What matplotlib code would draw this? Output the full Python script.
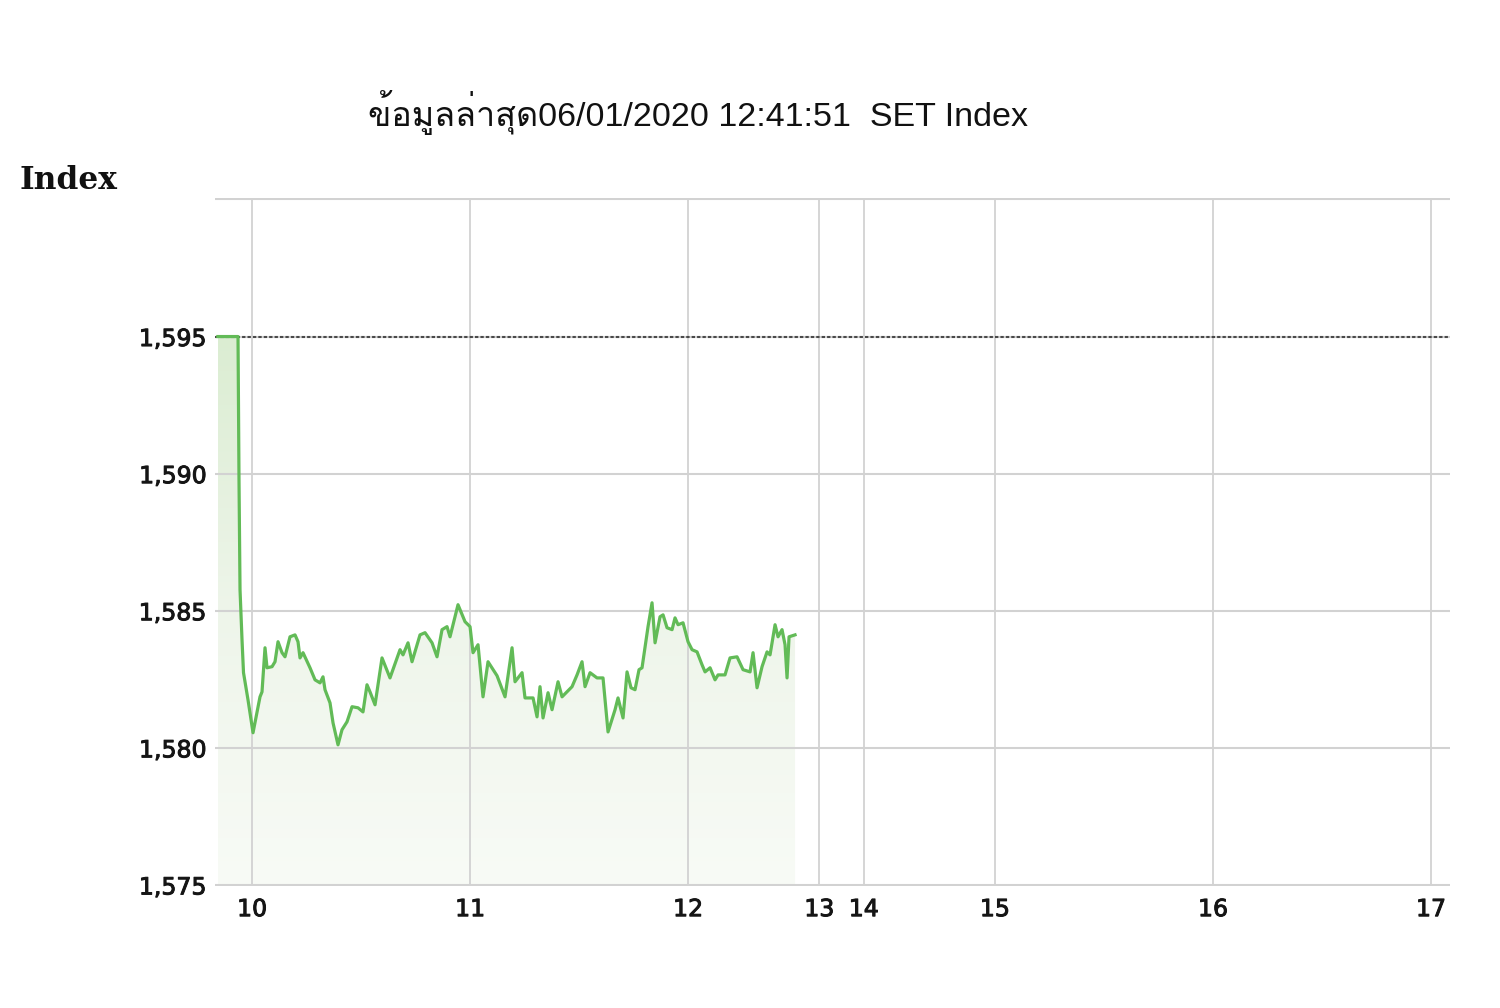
import numpy as np
import matplotlib
matplotlib.use("Agg")
import matplotlib.pyplot as plt
import matplotlib.patheffects as pe
from matplotlib import font_manager
from matplotlib.ft2font import FT2Font
from matplotlib.colors import LinearSegmentedColormap

# ---------------- data ----------------
title_text = "ข้อมูลล่าสุด06/01/2020 12:41:51  SET Index"
y_axis_title = "Index"

# minutes after 10:00 and SET index value
minutes = [-9.4, -3.85, -3.58, -3.30, -2.75, -2.34, -1.10, 0.28, 2.20, 2.75, 3.58, 4.13,
           5.51, 6.33, 7.16, 8.26, 9.08, 10.46, 11.84, 12.66, 13.21, 14.04, 15.96, 17.34,
           18.72, 19.54, 20.09, 21.47, 22.30, 23.67, 24.77, 26.15, 27.53, 29.18, 30.55,
           31.65, 32.48, 33.86, 35.78, 37.98, 40.74, 41.56, 42.94, 44.04, 46.24, 47.62,
           49.55, 50.92, 52.30, 53.67, 54.50, 56.70, 58.63, 60.01, 60.83, 62.21, 63.58,
           64.96, 67.44, 69.64, 71.57, 72.39, 74.32, 75.14, 77.35, 78.45, 79.27, 80.10,
           81.48, 82.58, 84.23, 85.33, 88.08, 89.46, 90.83, 91.66, 93.04, 94.96, 96.61,
           97.99, 99.92, 100.74, 102.12, 103.22, 104.32, 105.42, 106.52, 107.35, 109.00,
           110.10, 110.93, 112.30, 113.13, 114.23, 115.61, 116.43, 117.26, 118.63, 120.01,
           121.11, 122.49, 123.86, 124.69, 126.07, 127.44, 128.27, 130.19, 131.57, 133.50,
           135.15, 137.08, 137.90, 139.00, 140.38, 141.76, 142.58, 143.96, 144.78, 145.88,
           146.71, 147.26, 147.81, 149.46]
values = [1595.00, 1595.00, 1589.78, 1585.77, 1583.94, 1582.74, 1581.75, 1580.55, 1581.86,
          1582.04, 1583.65, 1582.92, 1582.96, 1583.14, 1583.87, 1583.47, 1583.32, 1584.05,
          1584.12, 1583.87, 1583.28, 1583.47, 1582.92, 1582.48, 1582.37, 1582.59, 1582.12,
          1581.64, 1580.91, 1580.11, 1580.66, 1580.95, 1581.50, 1581.46, 1581.31, 1582.30,
          1582.04, 1581.57, 1583.28, 1582.55, 1583.58, 1583.39, 1583.83, 1583.14, 1584.12,
          1584.20, 1583.83, 1583.32, 1584.31, 1584.42, 1584.05, 1585.22, 1584.60, 1584.42,
          1583.47, 1583.76, 1581.86, 1583.14, 1582.63, 1581.86, 1583.65, 1582.41, 1582.74,
          1581.82, 1581.82, 1581.13, 1582.23, 1581.09, 1582.01, 1581.39, 1582.41, 1581.86,
          1582.23, 1582.66, 1583.14, 1582.23, 1582.74, 1582.55, 1582.55, 1580.58, 1581.39,
          1581.82, 1581.09, 1582.77, 1582.19, 1582.12, 1582.85, 1582.92, 1584.42, 1585.29,
          1583.83, 1584.78, 1584.85, 1584.38, 1584.31, 1584.74, 1584.49, 1584.56, 1583.87,
          1583.58, 1583.50, 1583.03, 1582.77, 1582.92, 1582.48, 1582.66, 1582.66, 1583.28,
          1583.32, 1582.85, 1582.77, 1583.47, 1582.19, 1582.96, 1583.50, 1583.39, 1584.49,
          1584.05, 1584.31, 1583.76, 1582.55, 1584.05, 1584.12]

prev_close = 1595.0
y_ticks = [1575, 1580, 1585, 1590, 1595]
y_tick_labels = ["1,575", "1,580", "1,585", "1,590", "1,595"]
y_top = 1600
x_hours = [10, 11, 12, 13, 14, 15, 16, 17]
x_labels = ["10", "11", "12", "13", "14", "15", "16", "17"]

# trading-session compression of the time axis (lunch break squeezed)
session_time = [9.5, 12.5, 14.5, 17.5]
session_pos = [9.5, 12.5, 12.908, 15.908]


def to_axis(hours):
    return np.interp(hours, session_time, session_pos)


# ---------------- fonts ----------------
def find_thai_family():
    for f in font_manager.fontManager.ttflist:
        try:
            cmap = FT2Font(f.fname).get_charmap()
        except Exception:
            continue
        if 0x0E02 in cmap and 0x0E21 in cmap:
            return f.name
    return None


installed = {f.name for f in font_manager.fontManager.ttflist}
thai = find_thai_family()
title_fams = []
for name in ["Liberation Sans Narrow", "Liberation Sans"]:
    if name in installed:
        title_fams.append(name)
        break
if thai:
    title_fams.append(thai)
title_fams.append("DejaVu Sans")

# ---------------- figure ----------------
fig = plt.figure(figsize=(15, 10.08), dpi=100)
ax = fig.add_axes([0.1433, 0.121, 0.8233, 0.6825])

xs = to_axis(10 + np.asarray(minutes) / 60.0)
ys = np.asarray(values)

ax.set_xlim(9.830, 15.495)
ax.set_ylim(1574.96, y_top + 0.05)

# gradient fill under line (drawn below the grid)
poly = ax.fill_between(xs, ys, 1575, color="none", lw=0)
cmap = LinearSegmentedColormap.from_list("g", ["#f8fbf6", "#eef5ea", "#dbedd2"])
grad = np.linspace(0, 1, 256).reshape(-1, 1)
im = ax.imshow(grad, extent=[xs[0], xs[-1], 1575, prev_close], origin="lower",
               aspect="auto", cmap=cmap, zorder=0.5, interpolation="bilinear")
im.set_clip_path(poly.get_paths()[0], transform=ax.transData)

# grid
grid_c = "#d2d2d2"
for h in x_hours:
    ax.axvline(to_axis(h), color=grid_c, lw=1.3, zorder=1)
for v in y_ticks + [y_top]:
    ax.axhline(v, color=grid_c, lw=1.5, zorder=1)

# previous close line
ax.axhline(prev_close, color="#4a4a4a", lw=1.5, ls=(0, (1.6, 1.0)), zorder=3)

# index line
ax.plot(xs, ys, color="#62bb57", lw=2.3, zorder=4, solid_joinstyle="round")

for s in ax.spines.values():
    s.set_visible(False)

ax.set_yticks(y_ticks)
ax.set_yticklabels(y_tick_labels)
ax.set_xticks(to_axis(np.asarray(x_hours, dtype=float)))
ax.set_xticklabels(x_labels)
ax.tick_params(axis="both", length=0, labelsize=17, labelcolor="#151515")
ax.tick_params(axis="y", pad=6)
ax.tick_params(axis="x", pad=8)
thick = [pe.withStroke(linewidth=0.7, foreground="#151515")]
for lab in ax.get_xticklabels() + ax.get_yticklabels():
    lab.set_family("DejaVu Sans")
    lab.set_path_effects(thick)

fig.text(0.465, 0.888, title_text, ha="center", va="center", fontsize=24.5,
         family=title_fams, color="#111111")
fig.text(0.0133, 0.821, y_axis_title, ha="left", va="center", fontsize=22.5,
         family="DejaVu Serif", fontweight="bold", color="#111111")

fig.savefig("out.png", dpi=100, facecolor="white")
